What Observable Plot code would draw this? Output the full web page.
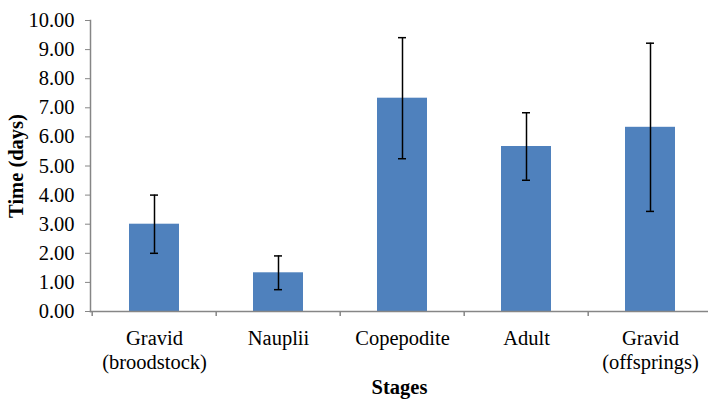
<!DOCTYPE html>
<html>
<head>
<meta charset="utf-8">
<script src="https://cdn.jsdelivr.net/npm/d3@7"></script>
<script src="https://cdn.jsdelivr.net/npm/@observablehq/plot@0.6"></script>
<style>
  html, body { margin: 0; padding: 0; background: #fff; }
  g[aria-label="y-axis label"] text, g[aria-label="x-axis label"] text { font-weight: bold; font-size: 20.5px; }
</style>
</head>
<body>
<div id="chart"></div>
<script>
const stages = ["Gravid\n(broodstock)", "Nauplii", "Copepodite", "Adult", "Gravid\n(offsprings)"];
const means = [3.00, 1.33, 7.33, 5.67, 6.33];
const errors = [1.00, 0.58, 2.08, 1.16, 2.89];
const yTicks = [0, 1, 2, 3, 4, 5, 6, 7, 8, 9, 10];

const data = stages.map((s, i) => ({stage: s, mean: means[i], lo: means[i] - errors[i], hi: means[i] + errors[i]}));

const W = 708, H = 401;
const x0 = 90, x1 = 713;
const step = (x1 - x0) / stages.length;

const plot = Plot.plot({
  width: W,
  height: H,
  marginLeft: 90,
  marginRight: 0,
  marginTop: 20,
  marginBottom: 90,
  style: {fontFamily: "'Liberation Serif', 'Times New Roman', serif", fontSize: "20.5px", color: "#000", background: "#fff"},
  x: {domain: stages, range: [x0, x1], paddingInner: 0.6, paddingOuter: 0.3, align: 0.5},
  y: {domain: [0, 10]},
  marks: [
    Plot.barY(data, {x: "stage", y: "mean", fill: "#4F81BD"}),
    Plot.ruleX(data, {x: "stage", y1: "lo", y2: "hi", stroke: "#000", strokeWidth: 1.5}),
    Plot.tickY(data, {x: "stage", y: "hi", stroke: "#000", strokeWidth: 1.5, insetLeft: 21, insetRight: 21}),
    Plot.tickY(data, {x: "stage", y: "lo", stroke: "#000", strokeWidth: 1.5, insetLeft: 21, insetRight: 21}),
    Plot.frame({anchor: "left", stroke: "#868686", strokeWidth: 1.5}),
    Plot.frame({anchor: "bottom", stroke: "#868686", strokeWidth: 1.5}),
    Plot.ruleX(stages, {x: d => d, dx: -step / 2, y1: 0, y2: 0, insetBottom: -5, stroke: "#868686", strokeWidth: 1.5}),
    Plot.axisY({ticks: yTicks, tickFormat: d3.format(".2f"), tickSize: 5, tickPadding: 11, stroke: "#868686",
      label: "Time (days)", labelAnchor: "center", labelArrow: "none", labelOffset: 82}),
    Plot.axisX({tickSize: 0, tickPadding: 16, lineHeight: 1.17,
      label: "Stages", labelAnchor: "center", labelArrow: "none", labelOffset: 82})
  ]
});
document.getElementById("chart").appendChild(plot);
</script>
</body>
</html>
